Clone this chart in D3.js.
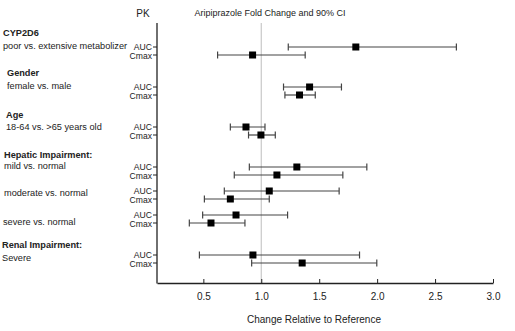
<!DOCTYPE html>
<html><head><meta charset="utf-8">
<script src="https://cdn.jsdelivr.net/npm/d3@7"></script>
<style>
body{margin:0;background:#fff;}
text{font-family:"Liberation Sans",Arial,sans-serif;fill:#222;}
</style></head>
<body><svg id="c" width="515" height="331"></svg>
<script>
// ---- data ----
const groupTitles = ["CYP2D6", "Gender", "Age", "Hepatic Impairment:", "", "", "Renal Impairment:"];
const groupSubtitles = ["poor vs. extensive metabolizer", "female vs. male", "18-64 vs. >65 years old",
  "mild vs. normal", "moderate vs. normal", "severe vs. normal", "Severe"];
const pkParams = ["AUC", "Cmax"];
const aucPoint = [1.816, 1.417, 0.868, 1.307, 1.069, 0.782, 0.928];
const aucLow   = [1.233, 1.192, 0.733, 0.897, 0.681, 0.494, 0.466];
const aucHigh  = [2.684, 1.692, 1.032, 1.911, 1.672, 1.227, 1.848];
const cmaxPoint = [0.925, 1.330, 0.997, 1.135, 0.733, 0.566, 1.353];
const cmaxLow   = [0.623, 1.204, 0.890, 0.767, 0.509, 0.379, 0.917];
const cmaxHigh  = [1.379, 1.466, 1.121, 1.704, 1.069, 0.859, 1.997];
const xTicks = [0.5, 1.0, 1.5, 2.0, 2.5, 3.0];
const xDomain = [0.1, 3.0];
const refValue = 1.0;
const titleText = "Aripiprazole Fold Change and 90% CI";
const xLabel = "Change Relative to Reference";
const pkHeader = "PK";

// ---- layout ----
const svg = d3.select("#c");
const gapBefore = [0, 3, 3, 3, 1, 1, 3];
const titleDy = [-14, -14, -12, -12, 0, 0, -10];
const subDy = [-1, -1, 0, -1, 1.7, 6.3, 3];
const subDx = [3, 7, 6, 4, 4, 3, 2];
const titleDx = [3, 7, 6, 4, 4, 3, 2];

let slot = 0;
const rows = [];
groupSubtitles.forEach((s, i) => {
  slot += gapBefore[i];
  rows.push({g: i, pk: pkParams[0], slot: slot, p: aucPoint[i], lo: aucLow[i], hi: aucHigh[i]});
  slot += 1;
  rows.push({g: i, pk: pkParams[1], slot: slot, p: cmaxPoint[i], lo: cmaxLow[i], hi: cmaxHigh[i]});
  slot += 1;
});

const x = d3.scaleLinear().domain(xDomain).range([157, 493]);
const y = d3.scaleLinear().domain([-3, 29.5]).range([23, 283]);
const yTop = y(-3), yBot = y(29.5);

// reference line
svg.append("line").attr("x1", x(refValue)).attr("x2", x(refValue))
  .attr("y1", yTop).attr("y2", yBot).attr("stroke", "#c8c8c8").attr("stroke-width", 1.2);

// x axis
const xAxis = d3.axisBottom(x).tickValues(xTicks).tickFormat(d3.format(".1f")).tickSizeInner(-4).tickSizeOuter(0).tickPadding(10);
const gx = svg.append("g").attr("transform", `translate(0,${yBot})`).call(xAxis);
gx.select(".domain").attr("stroke", "#222").attr("stroke-width", 1.3);
gx.selectAll(".tick line").attr("stroke", "#222");
gx.selectAll(".tick text").attr("font-size", 10).attr("fill", "#333").attr("font-family", "Liberation Sans, Arial, sans-serif");

// y axis line
svg.append("line").attr("x1", x(xDomain[0])).attr("x2", x(xDomain[0]))
  .attr("y1", yTop).attr("y2", yBot + 0.6).attr("stroke", "#222").attr("stroke-width", 1.3);

// y ticks + labels
rows.forEach(r => {
  const yy = y(r.slot);
  svg.append("line").attr("x1", x(xDomain[0]) - 4).attr("x2", x(xDomain[0]))
    .attr("y1", yy).attr("y2", yy).attr("stroke", "#222");
  svg.append("text").attr("x", 152).attr("y", yy + (r.pk === "AUC" ? 2.6 : 3.6))
    .attr("text-anchor", "end").attr("font-size", 8.6).attr("fill", "#333")
    .text(r.pk);
});

// error bars
const bars = svg.append("g");
rows.forEach(r => {
  const yy = y(r.slot);
  bars.append("line").attr("x1", x(r.lo)).attr("x2", x(r.hi)).attr("y1", yy).attr("y2", yy)
    .attr("stroke", "#444").attr("stroke-width", 1.2);
  [r.lo, r.hi].forEach(v => bars.append("line").attr("x1", x(v)).attr("x2", x(v))
    .attr("y1", yy - 3.5).attr("y2", yy + 3.5).attr("stroke", "#444").attr("stroke-width", 1.2));
  bars.append("rect").attr("x", x(r.p) - 3.5).attr("y", yy - 3.5).attr("width", 7).attr("height", 7).attr("fill", "#000");
});

// group labels
groupSubtitles.forEach((s, i) => {
  const aucRow = rows.find(r => r.g === i && r.pk === "AUC");
  const yy = y(aucRow.slot);
  if (groupTitles[i]) {
    svg.append("text").attr("x", titleDx[i]).attr("y", yy + titleDy[i]).attr("dy", "0.35em")
      .attr("font-size", 9.2).attr("font-weight", "bold").attr("fill", "#222").text(groupTitles[i]);
  }
  svg.append("text").attr("x", subDx[i]).attr("y", yy + subDy[i]).attr("dy", "0.35em")
    .attr("font-size", 9.2).attr("fill", "#333").text(s);
});

// headers
svg.append("text").attr("x", 143).attr("y", 13).attr("dy", "0.35em").attr("text-anchor", "middle")
  .attr("font-size", 10).attr("fill", "#333").text(pkHeader);
svg.append("text").attr("x", 270).attr("y", 13).attr("dy", "0.35em").attr("text-anchor", "middle")
  .attr("font-size", 9).attr("fill", "#333").text(titleText);
svg.append("text").attr("x", 314).attr("y", 319).attr("dy", "0.35em").attr("text-anchor", "middle")
  .attr("font-size", 10).attr("fill", "#333").text(xLabel);
</script></body></html>
